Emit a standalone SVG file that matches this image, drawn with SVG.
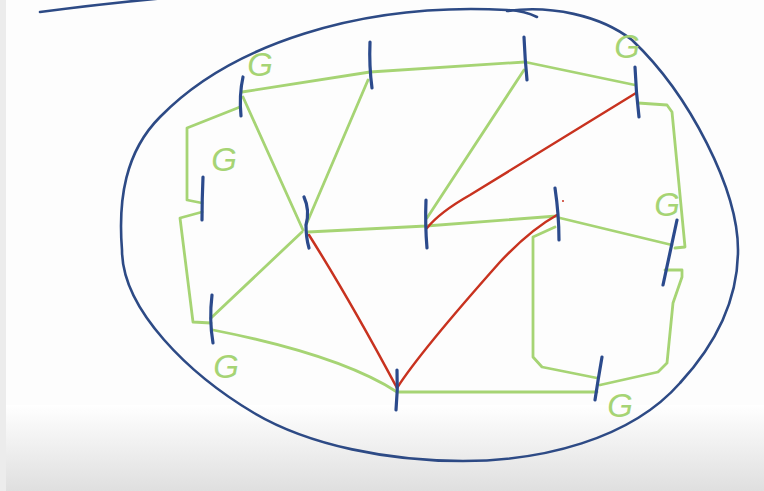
<svg xmlns="http://www.w3.org/2000/svg" width="764" height="491" viewBox="0 0 764 491">
<defs>
<linearGradient id="bg" x1="0" y1="0" x2="0" y2="1">
<stop offset="0" stop-color="#ffffff"/>
<stop offset="1" stop-color="#dfdfdf"/>
</linearGradient>
<style>
.ell{fill:none;stroke:#2d4a85;stroke-width:2.6;stroke-linecap:round;stroke-linejoin:round}
.tick{fill:none;stroke:#2b4a8c;stroke-width:3.2;stroke-linecap:round}
.g{fill:none;stroke:#a6d474;stroke-width:2.8;stroke-linecap:round;stroke-linejoin:round}
.r{fill:none;stroke:#c8321f;stroke-width:2.5;stroke-linecap:round;stroke-linejoin:round}
.lbl{font-family:"Liberation Sans",Arial,sans-serif;font-size:33px;fill:#a6d474;text-anchor:middle;font-style:italic}
</style>
</defs>
<rect x="0" y="0" width="764" height="491" fill="#fdfdfd"/>
<rect x="0" y="405" width="764" height="86" fill="url(#bg)"/>
<rect x="0" y="0" width="6" height="491" fill="#ececec"/>

<g id="outline">
<path class="ell" d="M 40,12 Q 100,4 165,-2"/>
<path class="ell" d="M 537,17 Q 525,11 507,10 C 360,2 230,45 160,117 C 125,152 118,200 122,250 C 122,310 190,375 254,413 C 310,446 390,461 463,461 C 540,461 630,440 680,383 C 715,345 738,300 738,250 C 738,190 690,95 632,40 C 600,15 550,5 507,11"/>
</g>

<g id="connectors">
<path class="g" d="M 242,92 L 370,72 L 525,62 L 635,85"/>
<path class="g" d="M 243,97 L 303,230"/>
<path class="g" d="M 368,80 L 306,225"/>
<path class="g" d="M 524,70 L 427,218"/>
<path class="g" d="M 308,232 L 426,226 L 557,216"/>
<path class="g" d="M 560,218 L 672,245"/>
<path class="g" d="M 302,232 L 211,318"/>
<path class="g" d="M 213,330 Q 340,355 397,392 L 597,392"/>
<path class="g" d="M 240,107 L 187,128 L 187,200 L 202,203"/>
<path class="g" d="M 202,212 L 180,218 L 193,322 L 211,323"/>
<path class="g" d="M 638,103 L 667,105 L 672,112 L 685,247 L 675,248"/>
<path class="g" d="M 665,270 L 682,270 L 682,277 L 673,303 L 667,363 L 658,372 L 600,385"/>
<path class="g" d="M 555,227 L 533,237 L 533,357 L 542,367 L 597,378"/>
<path class="r" d="M 309,235 Q 350,300 397,388"/>
<path class="r" d="M 397,388 Q 420,352 500,262 Q 530,230 557,215"/>
<path class="r" d="M 427,228 Q 440,212 470,195 L 636,93"/>
<circle cx="563" cy="201" r="1" fill="#c8321f"/>
</g>

<g id="n1"><path class="tick" d="M 243,77 Q 239,95 241,116"/></g>
<g id="n2"><path class="tick" d="M 370,42 Q 369,66 372,88"/></g>
<g id="n3"><path class="tick" d="M 524,37 Q 525,60 527,80"/></g>
<g id="n4"><path class="tick" d="M 635,67 Q 636,92 639,117"/></g>
<g id="n5"><path class="tick" d="M 203,177 Q 202,200 202,220"/></g>
<g id="n6"><path class="tick" d="M 304,197 Q 310,210 306,225 Q 306,238 309,248"/></g>
<g id="n7"><path class="tick" d="M 426,200 Q 425,225 427,248"/></g>
<g id="n8"><path class="tick" d="M 555,188 Q 559,215 559,240"/></g>
<g id="n9"><path class="tick" d="M 677,220 L 663,285"/></g>
<g id="n10"><path class="tick" d="M 212,295 Q 209,320 213,343"/></g>
<g id="n11"><path class="tick" d="M 397,370 Q 398,390 396,410"/></g>
<g id="n12"><path class="tick" d="M 602,357 Q 598,380 595,400"/></g>

<g id="labels">
<text class="lbl" x="260" y="76">G</text>
<text class="lbl" x="627" y="58">G</text>
<text class="lbl" x="224" y="171">G</text>
<text class="lbl" x="667" y="216">G</text>
<text class="lbl" x="226" y="378">G</text>
<text class="lbl" x="620" y="417">G</text>
</g>
</svg>
